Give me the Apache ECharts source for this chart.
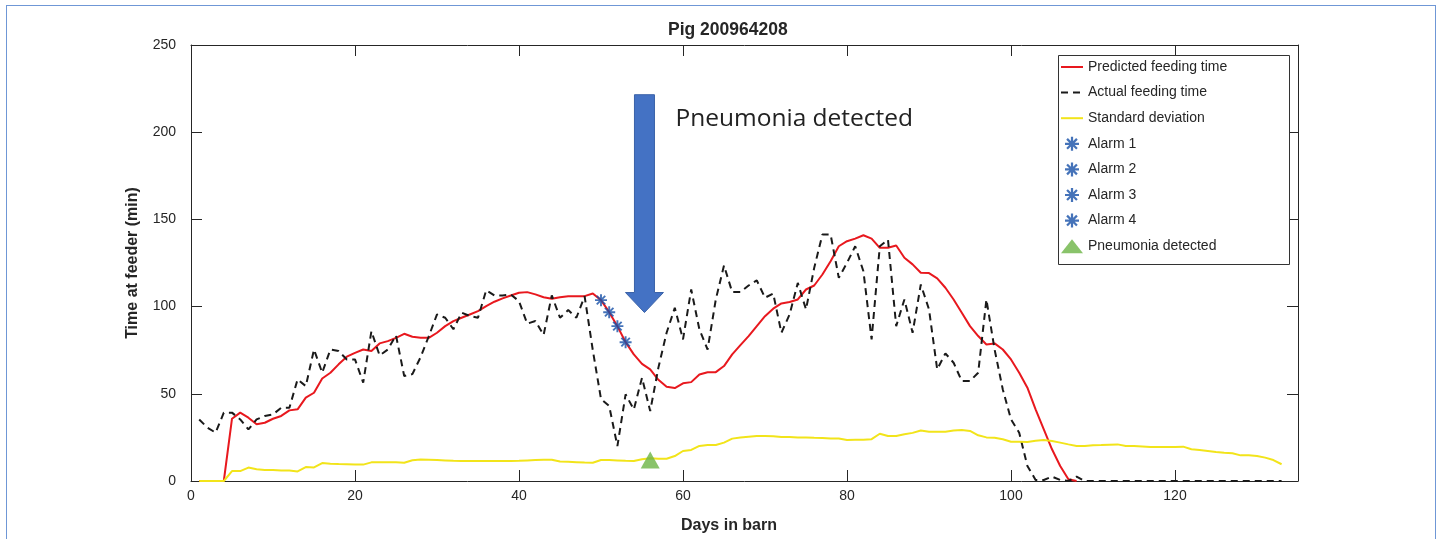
<!DOCTYPE html>
<html>
<head>
<meta charset="utf-8">
<script src="https://cdn.jsdelivr.net/npm/echarts@6/dist/echarts.min.js"></script>
<style>
	html, body { margin: 0; padding: 0; background: #fff; }
	#frame { position: absolute; left: 6px; top: 5px; width: 1428px; height: 600px; border: 1px solid #6f97d6; }
	#chart { position: absolute; left: 0; top: 0; width: 1441px; height: 539px; }
</style>
</head>
<body>
<div id="frame"></div>
<div id="chart"></div>
<script>
// day 1 is the first value of every series
var firstDay = 1;

var predicted = [0, 0, 0, 0, 35.7, 39.2, 36.3, 32.5, 33.4, 35.7,
	37.3, 40.5, 41.1, 47.8, 50.6, 58.8, 62.1, 66.9, 71.3, 73.5,
	75.4, 74.5, 78.9, 80.2, 82.1, 84.4, 82.7, 82.1, 82.1, 85,
	88.8, 91.7, 93.6, 95.5, 97.4, 100.3, 102.8, 104.7, 106.4, 107.9,
	108.3, 107, 105.4, 104.5, 105.4, 106, 106, 106, 107.5, 103.7,
	96.8, 88.8, 79.6, 72.6, 67.2, 64, 58, 54, 53.3, 56,
	56.7, 61.1, 62.4, 62.4, 65.9, 72.6, 77.9, 83.1, 88.8, 94.5,
	98.8, 101.8, 102.6, 104.1, 109.8, 112.1, 118.4, 126, 134.6, 137.5,
	139, 140.9, 139, 133.7, 133.7, 135, 128, 124.2, 119.4, 119.2,
	116.2, 110.8, 104.1, 96.5, 88.8, 83.1, 78.3, 78.9, 75.4, 69.7,
	62.1, 53.5, 41.1, 29.6, 18.2, 8.6, 1, 0];

var actual = [35.3, 30.6, 27.7, 39.2, 39.2, 35.3, 29.6, 35.3, 37.3, 38.2,
	42, 42, 58.3, 54.4, 75.4, 62.1, 75.4, 74.5, 69.7, 69.7,
	56.4, 85.9, 72, 75.4, 83.5, 60.2, 61.3, 71, 83, 95.5,
	93.6, 87, 96.5, 94.6, 93.6, 109.4, 106.4, 106.4, 107, 103.1,
	90.2, 91.7, 83.7, 106.4, 93.6, 98, 93.6, 106, 75, 47,
	43, 20, 49.7, 41, 59.2, 40.1, 65, 85, 99.3, 81.2,
	109.8, 86.9, 75.4, 104.1, 123.6, 108.3, 108.3, 112.1, 115, 105.1,
	107.5, 85, 95.5, 113.6, 98.4, 122.2, 141.3, 141.3, 116.5, 125.1,
	134.6, 120.3, 81.2, 134.6, 138.4, 88.8, 104.1, 85, 112.7, 98.4,
	64, 73.2, 67.8, 57.3, 57.3, 62.1, 104.1, 75.4, 52.5, 35.3,
	27.7, 8.6, 0.6, 0.6, 2.5, 0.6, 0, 2.5, 0, 0,
	0, 0, 0, 0, 0, 0, 0, 0, 0, 0,
	0, 0, 0, 0, 0, 0, 0, 0, 0, 0,
	0, 0, 0];

var stdDev = [0, 0, 0, 0, 5.7, 5.7, 7.7, 6.7, 6.3, 6.3,
	6, 6, 5.5, 8, 7.8, 10.3, 9.9, 9.7, 9.6, 9.4,
	9.4, 10.7, 10.7, 10.7, 10.7, 10.5, 11.9, 12.3, 12.2, 12,
	11.8, 11.6, 11.5, 11.5, 11.5, 11.5, 11.5, 11.5, 11.5, 11.6,
	11.8, 12, 12.2, 12.2, 11.2, 11, 10.8, 10.6, 10.5, 12,
	12, 11.8, 11.6, 11.5, 12.5, 13, 12.8, 12.8, 14.3, 17.2,
	17.8, 20.1, 20.6, 20.6, 22, 24.3, 25, 25.4, 25.8, 25.8,
	25.6, 25.2, 25.2, 25, 25, 24.8, 24.7, 24.4, 24.4, 23.5,
	23.6, 23.7, 24, 27.1, 25.8, 25.8, 26.8, 27.6, 29, 28.3,
	28.3, 28.3, 28.9, 29.2, 28.7, 26.2, 25, 24.8, 23.9, 22.5,
	22.5, 22.4, 23.1, 23.5, 22.9, 22, 21, 20.1, 20.1, 20.5,
	20.6, 20.8, 21, 20.1, 20.1, 19.8, 19.5, 19.5, 19.5, 19.5,
	19.7, 18.2, 17.8, 17.2, 16.6, 16.2, 15.9, 14.7, 14.7, 14.3,
	13.4, 12, 9.6];

// alarms sit on the predicted curve
var alarmNames = ['Alarm 1', 'Alarm 2', 'Alarm 3', 'Alarm 4'];
var alarmDays = [50, 51, 52, 53];
var alarmValues = [103.7, 96.8, 88.8, 79.6];

var detectedDay = 56;
var detectedValue = 12;

// annotation arrow, in data units
var arrowDay = 55.3;
var arrowTopValue = 221.5;
var arrowTipValue = 96.6;
var annotationText = 'Pneumonia detected';

var xTicks = { min: 0, max: 135, interval: 20 };
var yTicks = { min: 0, max: 250, interval: 50 };

function pairs(values) {
	return values.map(function (v, i) { return [firstDay + i, v]; });
}

var axisColor = '#262626';
var font = 'Liberation Sans, Arial, sans-serif';
var asterisk = 'path://M-0.8,-5L0.8,-5L0.8,5L-0.8,5Z' +
	'M-5,-0.8L5,-0.8L5,0.8L-5,0.8Z' +
	'M2.97,-4.10L4.10,-2.97L-2.97,4.10L-4.10,2.97Z' +
	'M-4.10,-2.97L-2.97,-4.10L4.10,2.97L2.97,4.10Z';

var chart = echarts.init(document.getElementById('chart'));

var alarmSeries = alarmNames.map(function (name, i) {
	return {
		name: name,
		type: 'scatter',
		symbol: asterisk,
		symbolSize: 12,
		itemStyle: { color: '#1750a8' },
		z: 5,
		data: [[alarmDays[i], alarmValues[i]]]
	};
});

function plainAxis(extra) {
	var base = {
		type: 'value',
		axisLine: { show: true, onZero: false, lineStyle: { color: axisColor } },
		axisTick: { show: true, inside: true, length: 11, lineStyle: { color: axisColor } },
		splitLine: { show: false }
	};
	return Object.assign(base, extra);
}

var lineLegend = { opacity: 0 };

var option = {
	animation: false,
	textStyle: { fontFamily: font },
	title: {
		text: 'Pig 200964208',
		left: 663,
		top: 16,
		textStyle: { fontSize: 17.5, fontWeight: 'bold', color: axisColor, fontFamily: font }
	},
	grid: { left: 191, top: 45, right: 143, bottom: 57 },
	legend: {
		orient: 'vertical',
		left: 1058,
		top: 55,
		padding: [5, 3, 4, 2],
		itemWidth: 22,
		itemHeight: 14,
		itemGap: 11.6,
		z: 5,
		textStyle: { fontSize: 14, color: axisColor, fontFamily: font },
		data: [
			{ name: 'Predicted feeding time', itemStyle: lineLegend },
			{ name: 'Actual feeding time', itemStyle: lineLegend },
			{ name: 'Standard deviation', itemStyle: lineLegend }
		].concat(alarmNames).concat(['Pneumonia detected'])
	},
	xAxis: [plainAxis({
		min: xTicks.min, max: xTicks.max, interval: xTicks.interval,
		name: 'Days in barn',
		nameLocation: 'middle',
		nameGap: 37,
		nameTextStyle: { fontSize: 16, fontWeight: 'bold', color: axisColor, padding: [0, 31, 0, 0] },
		axisLabel: { fontSize: 14, color: axisColor, margin: 8, showMaxLabel: false }
	}), plainAxis({
		position: 'top',
		min: xTicks.min, max: xTicks.max, interval: xTicks.interval,
		axisLabel: { show: false }
	})],
	yAxis: [plainAxis({
		min: yTicks.min, max: yTicks.max, interval: yTicks.interval,
		name: 'Time at feeder (min)',
		nameLocation: 'middle',
		nameGap: 50,
		nameTextStyle: { fontSize: 16, fontWeight: 'bold', color: axisColor },
		axisLabel: { fontSize: 14, color: axisColor, margin: 15 }
	}), plainAxis({
		position: 'right',
		min: yTicks.min, max: yTicks.max, interval: yTicks.interval,
		axisLabel: { show: false }
	})],
	series: [{
		name: 'Predicted feeding time',
		type: 'line',
		symbol: 'none',
		lineStyle: { color: '#e8181e', width: 2 },
		itemStyle: { color: '#e8181e' },
		z: 2,
		data: pairs(predicted)
	}, {
		name: 'Actual feeding time',
		type: 'line',
		symbol: 'none',
		lineStyle: { color: '#1a1a1a', width: 2, type: [7, 5] },
		itemStyle: { color: '#1a1a1a' },
		z: 3,
		data: pairs(actual)
	}, {
		name: 'Standard deviation',
		type: 'line',
		symbol: 'none',
		lineStyle: { color: '#f2e41a', width: 2 },
		itemStyle: { color: '#f2e41a' },
		z: 4,
		data: pairs(stdDev)
	}].concat(alarmSeries).concat([{
		name: 'Pneumonia detected',
		type: 'scatter',
		symbol: 'triangle',
		symbolSize: [19, 17],
		itemStyle: { color: '#6bb445' },
		z: 6,
		data: [[detectedDay, detectedValue]]
	}])
};

chart.setOption(option);

// legend frame and the annotation arrow
var arrowStart = chart.convertToPixel({ xAxisIndex: 0, yAxisIndex: 0 }, [arrowDay, arrowTopValue]);
var arrowEnd = chart.convertToPixel({ xAxisIndex: 0, yAxisIndex: 0 }, [arrowDay, arrowTipValue]);
var shaftHalf = 10, headHalf = 19, headLen = 20;
chart.setOption({
	graphic: [{
		type: 'rect',
		shape: { x: 1058.5, y: 55.5, width: 231, height: 209 },
		style: { fill: '#fff', stroke: '#333', lineWidth: 1 },
		z: 3,
		silent: true
	}, {
		type: 'polygon',
		shape: {
			points: [
				[arrowStart[0] - shaftHalf, arrowStart[1]],
				[arrowStart[0] + shaftHalf, arrowStart[1]],
				[arrowStart[0] + shaftHalf, arrowEnd[1] - headLen],
				[arrowStart[0] + headHalf, arrowEnd[1] - headLen],
				[arrowEnd[0], arrowEnd[1]],
				[arrowStart[0] - headHalf, arrowEnd[1] - headLen],
				[arrowStart[0] - shaftHalf, arrowEnd[1] - headLen]
			]
		},
		style: { fill: '#4472c4', stroke: '#3a62a8', lineWidth: 1 },
		z: 20
	}, {
		type: 'text',
		x: arrowStart[0] + 31,
		y: arrowStart[1] + 12,
		style: {
			text: annotationText,
			font: '24.5px "Open Sans", sans-serif',
			fill: '#222'
		},
		z: 20
	}]
});
</script>
</body>
</html>
